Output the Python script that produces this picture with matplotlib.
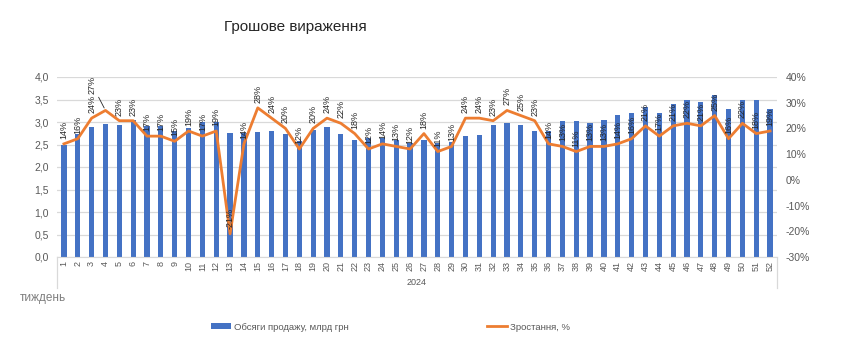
import matplotlib
matplotlib.use("Agg")
import matplotlib.pyplot as plt
from matplotlib.ticker import FuncFormatter, MultipleLocator

plt.rcParams["font.family"] = ["Liberation Sans", "DejaVu Sans"]

weeks = [str(i) for i in range(1, 53)]
sales = [2.50, 2.73, 2.90, 2.95, 2.93, 3.04, 2.92, 2.92, 2.81, 2.86,
         2.99, 3.01, 2.76, 2.76, 2.78, 2.80, 2.74, 2.58, 2.82, 2.90,
         2.74, 2.60, 2.64, 2.65, 2.60, 2.53, 2.60, 2.54, 2.56, 2.69,
         2.72, 2.93, 2.97, 2.93, 2.81, 2.79, 3.02, 3.02, 2.97, 3.04,
         3.16, 3.21, 3.34, 3.19, 3.41, 3.50, 3.44, 3.60, 3.28, 3.49,
         3.50, 3.30]
growth = [14, 16, 24, 27, 23, 23, 17, 17, 15, 19,
          17, 19, -21, 14, 28, 24, 20, 12, 20, 24,
          22, 18, 12, 14, 13, 12, 18, 11, 13, 24,
          24, 23, 27, 25, 23, 14, 13, 11, 13, 13,
          14, 16, 21, 17, 21, 22, 21, 25, 16, 22,
          18, 19]
year_label = "2024"

BLUE = "#4472C4"
ORANGE = "#ED7D31"
GRID = "#D9D9D9"
TXT = "#595959"

fig = plt.figure(figsize=(8.5, 3.51), dpi=100)
ax = fig.add_axes([57 / 850, 1 - 257 / 351, 720 / 850, 180 / 351])
x = list(range(len(weeks)))

ax.bar(x, sales, width=0.38, color=BLUE, zorder=2, label="Обсяги продажу, млрд грн")
ax.set_xlim(-0.5, len(weeks) - 0.5)
ax.set_ylim(0, 4.0)
ax.yaxis.set_major_locator(MultipleLocator(0.5))
ax.yaxis.set_major_formatter(FuncFormatter(lambda v, p: f"{v:.1f}".replace(".", ",")))
ax.grid(axis="y", color=GRID, linewidth=0.9, zorder=0)
ax.set_xticks(x)
ax.set_xticklabels(weeks, rotation=90, fontsize=6.5, color=TXT)
ax.tick_params(axis="y", labelsize=7.5, colors=TXT, length=0, pad=6)
ax.tick_params(axis="x", length=0, pad=3)
for s in ["top", "right", "left"]:
    ax.spines[s].set_visible(False)
ax.spines["bottom"].set_color(GRID)

ax2 = ax.twinx()
ax2.plot(x, growth, color=ORANGE, linewidth=2.0, zorder=3, label="Зростання, %")
ax2.set_ylim(-30, 40)
ax2.yaxis.set_major_locator(MultipleLocator(10))
ax2.yaxis.set_major_formatter(FuncFormatter(lambda v, p: f"{v:.0f}%"))
ax2.tick_params(axis="y", labelsize=7.5, colors=TXT, length=0, pad=6)
for s in ax2.spines.values():
    s.set_visible(False)

for i, g in enumerate(growth):
    if i == 3:
        # this label was dragged aside in the source, with a leader line
        ax2.annotate(f"{g}%", xy=(i, g), xytext=(-13, 16), textcoords="offset pixels",
                     rotation=90, ha="center", va="bottom", fontsize=6.5, color="#262626",
                     arrowprops=dict(arrowstyle="-", color="#262626", lw=0.6,
                                     shrinkA=0, shrinkB=2))
    else:
        ax2.annotate(f"{g}%", xy=(i, g), xytext=(0, 5), textcoords="offset pixels",
                     rotation=90, ha="center", va="bottom", fontsize=6.5, color="#262626")

# multi-level category axis separators
for xe in (0, 1):
    ax.plot([xe, xe], [0, -0.17], transform=ax.transAxes, color=GRID,
            linewidth=0.9, clip_on=False)
ax.text(0.5, -0.14, year_label, transform=ax.transAxes, ha="center", va="center",
        fontsize=6.5, color=TXT)

fig.text(295 / 850, 1 - 27 / 351, "Грошове вираження", ha="center", va="center",
         fontsize=11, color="#262626")
fig.text(20 / 850, 1 - 298 / 351, "тиждень", ha="left", va="center",
         fontsize=8.5, color="#7F7F7F")

h1, l1 = ax.get_legend_handles_labels()
h2, l2 = ax2.get_legend_handles_labels()
for h, l, xl in ((h1, l1, 211), (h2, l2, 487)):
    fig.legend(h, l, loc="center left", bbox_to_anchor=(xl / 850, 1 - 327 / 351),
               frameon=False, fontsize=6.8, labelcolor=TXT, handlelength=2.1,
               handleheight=0.5, handletextpad=0.3, borderpad=0, borderaxespad=0)

fig.savefig("out.png", dpi=100, facecolor="white")
